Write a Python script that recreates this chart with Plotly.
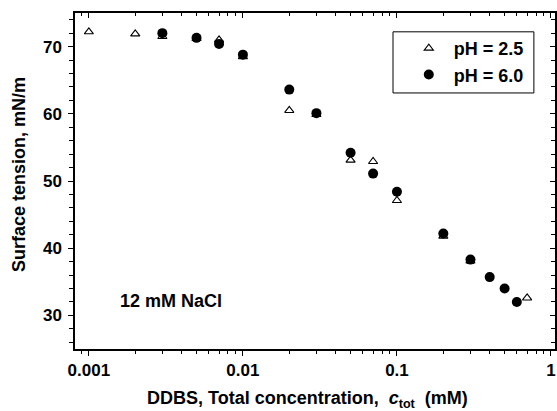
import plotly.graph_objects as go

# pH = 2.5 (open triangles)
x_ph25 = [0.001, 0.002, 0.003, 0.005, 0.007, 0.01, 0.02, 0.03, 0.05, 0.07, 0.1, 0.2, 0.3, 0.7]
y_ph25 = [72.2, 71.9, 71.5, 71.2, 71.0, 68.5, 60.5, 59.9, 53.1, 52.9, 47.1, 41.8, 38.1, 32.6]

# pH = 6.0 (filled circles)
x_ph60 = [0.003, 0.005, 0.007, 0.01, 0.02, 0.03, 0.05, 0.07, 0.1, 0.2, 0.3, 0.4, 0.5, 0.6]
y_ph60 = [72.0, 71.3, 70.4, 68.8, 63.6, 60.1, 54.2, 51.1, 48.4, 42.2, 38.3, 35.7, 34.0, 32.0]

x_range_log = [-3.09, 0.026]
y_range = [25, 75]
x_tickvals = [0.001, 0.01, 0.1, 1]
x_ticktext = ["0.001", "0.01", "0.1", "1"]
y_tickvals = [30, 40, 50, 60, 70]

FONT = "Arial, Liberation Sans, sans-serif"

fig = go.Figure()
fig.add_trace(go.Scatter(
    x=x_ph25, y=y_ph25, mode="markers", name="<b>pH = 2.5</b>",
    marker=dict(symbol="triangle-up-open", size=8, color="black", line=dict(width=1.1, color="black")),
))
fig.add_trace(go.Scatter(
    x=x_ph60, y=y_ph60, mode="markers", name="<b>pH = 6.0</b>",
    marker=dict(symbol="circle", size=10, color="black"),
))
# invisible trace to anchor the mirrored (inside-tick) axes
fig.add_trace(go.Scatter(
    x=x_ph60, y=y_ph60, mode="markers", xaxis="x2", yaxis="y2",
    marker=dict(opacity=0), showlegend=False, hoverinfo="skip",
))

fig.update_layout(
    width=557, height=411,
    margin=dict(l=75, r=2, t=13, b=62),
    paper_bgcolor="white", plot_bgcolor="white",
    font=dict(family=FONT, size=17, color="black"),
    showlegend=True,
    legend=dict(
        x=0.685, y=0.856, xanchor="left", yanchor="middle",
        borderwidth=0, bgcolor="rgba(0,0,0,0)",
        font=dict(family=FONT, size=18, color="black"),
        itemwidth=40, tracegroupgap=0,
    ),
    xaxis=dict(
        type="log", range=x_range_log,
        tickvals=x_tickvals, ticktext=["<b>%s</b>" % t for t in x_ticktext],
        ticks="outside", ticklen=5, tickwidth=1, tickcolor="black",
        minor=dict(ticks="outside", ticklen=3, tickwidth=1, tickcolor="black", dtick="D1", showgrid=False),
        showline=True, linecolor="black", linewidth=1.5,
        showgrid=False, zeroline=False,
        tickfont=dict(family=FONT, size=17, color="black"),
    ),
    yaxis=dict(
        range=y_range,
        tickvals=y_tickvals, ticktext=["<b>%d</b>" % v for v in y_tickvals],
        ticks="outside", ticklen=5, tickwidth=1, tickcolor="black",
        minor=dict(ticks="outside", ticklen=4, tickwidth=1, tickcolor="black", dtick=2, tick0=0, showgrid=False),
        showline=True, linecolor="black", linewidth=1.5,
        showgrid=False, zeroline=False,
        tickfont=dict(family=FONT, size=17, color="black"),
        ticklabelstandoff=3,
    ),
    xaxis2=dict(
        type="log", range=x_range_log, overlaying="x", side="top", anchor="y2",
        tickvals=x_tickvals, showticklabels=False,
        ticks="inside", ticklen=5, tickwidth=1, tickcolor="black",
        minor=dict(ticks="inside", ticklen=3, tickwidth=1, tickcolor="black", dtick="D1", showgrid=False),
        showline=True, linecolor="black", linewidth=1.5, showgrid=False, zeroline=False,
    ),
    yaxis2=dict(
        range=y_range, overlaying="y", side="right", anchor="x2",
        tickvals=y_tickvals, showticklabels=False,
        ticks="inside", ticklen=5, tickwidth=1, tickcolor="black",
        minor=dict(ticks="inside", ticklen=4, tickwidth=1, tickcolor="black", dtick=2, tick0=0, showgrid=False),
        showline=True, linecolor="black", linewidth=1.5, showgrid=False, zeroline=False,
    ),
    shapes=[dict(
        type="rect", xref="paper", yref="paper",
        x0=0.6625, x1=0.956, y0=0.762, y1=0.944,
        line=dict(color="black", width=1), fillcolor="rgba(0,0,0,0)", layer="below",
    )],
    annotations=[
        dict(x=-2.468, y=32.07, xref="x", yref="y", text="<b>12 mM NaCl</b>", showarrow=False,
             xanchor="center", yanchor="middle", font=dict(family=FONT, size=18, color="black")),
        dict(x=0.485, y=-0.15, xref="paper", yref="paper",
             text="<b>DDBS, Total concentration,&nbsp;&nbsp;<i>c</i><sub>tot</sub>&nbsp;&nbsp;(mM)</b>",
             showarrow=False, xanchor="center", yanchor="middle",
             font=dict(family=FONT, size=18, color="black")),
        dict(x=-0.1167, y=0.521, xref="paper", yref="paper", text="<b>Surface tension, mN/m</b>",
             textangle=-90, showarrow=False, xanchor="center", yanchor="middle",
             font=dict(family=FONT, size=18, color="black")),
    ],
)

fig.write_html(
    "out.html",
    config={"displayModeBar": False},
    post_script="document.body.style.margin='0';document.body.style.overflow='hidden';",
)
